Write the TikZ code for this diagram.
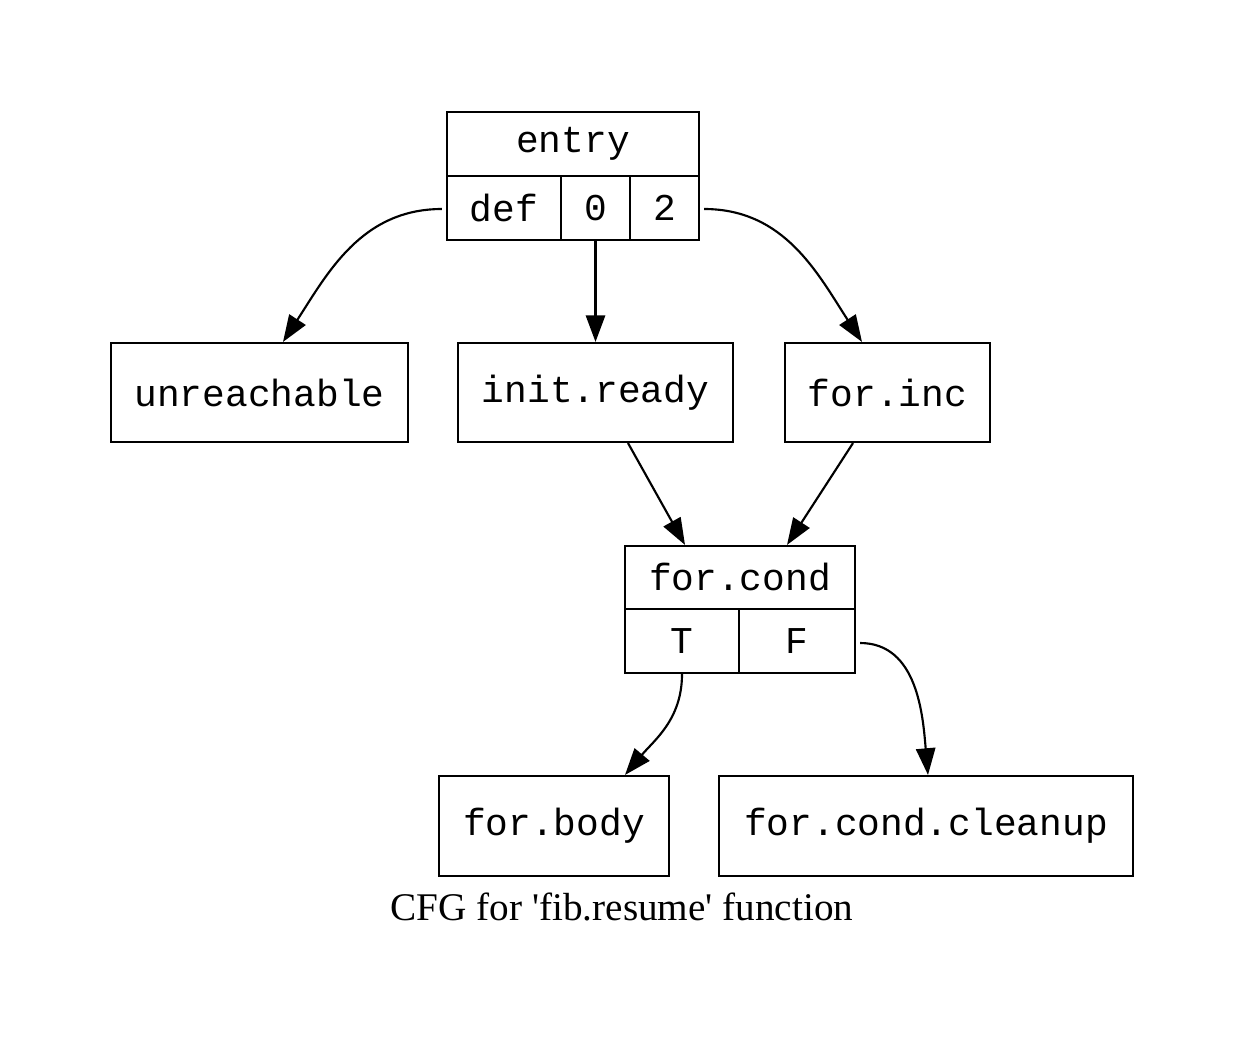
\documentclass[tikz,border=0pt]{standalone}
\usepackage{fontspec}
\setmainfont{Liberation Serif}
\setmonofont{Liberation Mono}
\usetikzlibrary{arrows.meta,calc}

\begin{document}
\begin{tikzpicture}[x=0.75pt,y=0.75pt,yscale=-1,xscale=1,
  cell/.style={draw,line width=1.6pt,inner sep=0pt,font=\fontsize{28.4}{34}\selectfont\ttfamily},
  edge/.style={line width=1.6pt,-{Triangle[length=20pt,width=14.5pt]}}]

%set diagram to the full page
\useasboundingbox (0,0) rectangle (1245,1053);

%Record: entry
\node [cell,minimum width=252*0.75pt,minimum height=64*0.75pt] (entry) at (573,144) {entry};
\node [cell,minimum width=114*0.75pt,minimum height=64*0.75pt] (def) at (504,208) {def};
\node [cell,minimum width=69*0.75pt,minimum height=64*0.75pt] (zero) at (595.5,208) {0};
\node [cell,minimum width=69*0.75pt,minimum height=64*0.75pt] (two) at (664.5,208) {2};

%Blocks: second row
\node [cell,minimum width=297*0.75pt,minimum height=99*0.75pt] (unreach) at (259.5,392.5) {unreachable};
\node [cell,minimum width=275*0.75pt,minimum height=99*0.75pt] (ready) at (595.5,392.5) {init.ready};
\node [cell,minimum width=205*0.75pt,minimum height=99*0.75pt] (inc) at (887.5,392.5) {for.inc};

%Record: for.cond
\node [cell,minimum width=230*0.75pt,minimum height=63*0.75pt] (cond) at (740,577.5) {for.cond};
\node [cell,minimum width=114*0.75pt,minimum height=64*0.75pt] (true) at (682,641) {T};
\node [cell,minimum width=116*0.75pt,minimum height=64*0.75pt] (false) at (797,641) {F};

%Blocks: last row
\node [cell,minimum width=230*0.75pt,minimum height=100*0.75pt] (body) at (554,826) {for.body};
\node [cell,minimum width=414*0.75pt,minimum height=100*0.75pt] (cleanup) at (926,826) {for.cond.cleanup};

% Text Node
\node [inner sep=0pt,font=\fontsize{29.4}{35}\selectfont] (title) at (622,907) {CFG for \textquotesingle fib.resume\textquotesingle{} function};

%Edges (angles flipped because of yscale=-1)
\draw [edge] ($(def.west)+(-4,1)$) to[out=180,in=-57] ($(unreach.north)+(23.5,0)$);
\draw [edge] (zero.south) -- (ready.north);
\draw [edge] ($(two.east)+(4,1)$) to[out=0,in=-123] ($(inc.north)+(-25.5,0)$);
\draw [edge] ($(ready.south)+(32.5,0)$) -- ($(cond.north)+(-55,0)$);
\draw [edge] ($(inc.south)+(-34.5,0)$) -- ($(cond.north)+(47,0)$);
\draw [edge] (true.south) to[out=90,in=-50] ($(body.north)+(71,0)$);
\draw [edge] ($(false.east)+(4,2)$) to[out=0,in=-95] ($(cleanup.north)+(2,0)$);

\end{tikzpicture}
\end{document}
